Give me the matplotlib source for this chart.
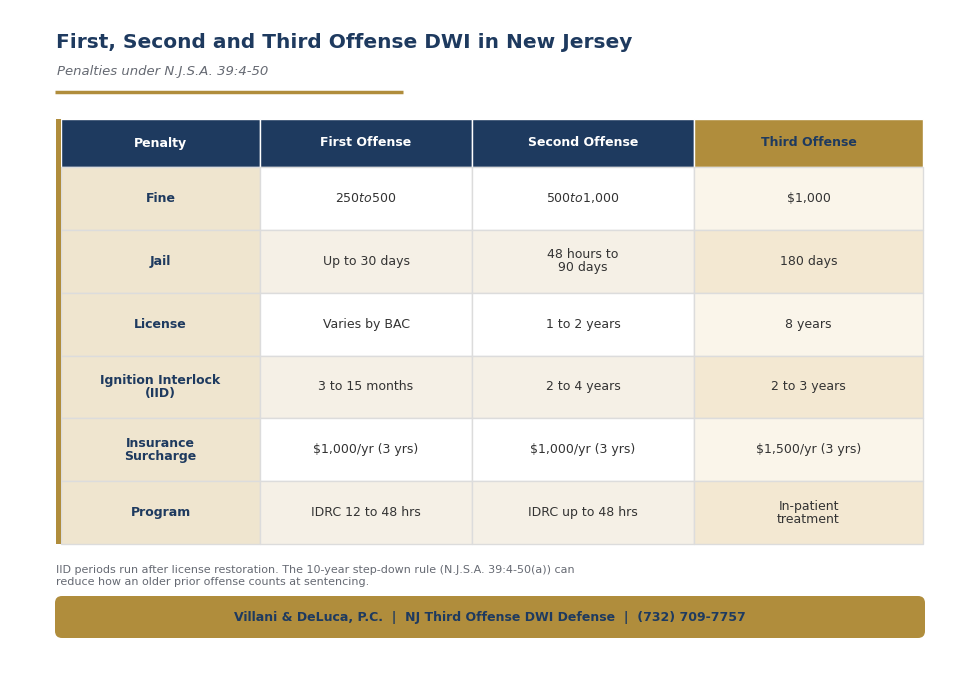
import matplotlib.pyplot as plt
from matplotlib.patches import Rectangle, FancyBboxPatch

navy = "#1e3a5f"
gold = "#b08d3c"

title = "First, Second and Third Offense DWI in New Jersey"
subtitle = "Penalties under N.J.S.A. 39:4-50"
columns = ["Penalty", "First Offense", "Second Offense", "Third Offense"]
penalties = ["Fine", "Jail", "License", "Ignition Interlock\n(IID)", "Insurance\nSurcharge", "Program"]
first = ["$250 to $500", "Up to 30 days", "Varies by BAC", "3 to 15 months", "$1,000/yr (3 yrs)", "IDRC 12 to 48 hrs"]
second = ["$500 to $1,000", "48 hours to\n90 days", "1 to 2 years", "2 to 4 years", "$1,000/yr (3 yrs)", "IDRC up to 48 hrs"]
third = ["$1,000", "180 days", "8 years", "2 to 3 years", "$1,500/yr (3 yrs)", "In-patient\ntreatment"]
note = ("IID periods run after license restoration. The 10-year step-down rule (N.J.S.A. 39:4-50(a)) can\n"
        "reduce how an older prior offense counts at sentencing.")
footer = "Villani & DeLuca, P.C.  |  NJ Third Offense DWI Defense  |  (732) 709-7757"

fig = plt.figure(figsize=(9.8, 6.74), dpi=100)
ax = fig.add_axes([0, 0, 1, 1])
ax.set_xlim(0, 980)
ax.set_ylim(674, 0)
ax.axis("off")

ax.text(56, 43, title, fontsize=14.5, fontweight="bold", color=navy, va="center")
ax.text(57, 72, subtitle, fontsize=9.5, style="italic", color="#666a73", va="center")
ax.plot([55, 403], [91.5, 91.5], color=gold, lw=2.5, solid_capstyle="butt")

xs = [61, 260, 472, 694, 923]
y_head, y_body = 119, 167
row_h = (544 - 167) / 6
grid = "#dcdcdc"

# header
for i, c in enumerate(columns):
    bg = gold if i == 3 else navy
    fg = navy if i == 3 else "white"
    ax.add_patch(Rectangle((xs[i], y_head), xs[i + 1] - xs[i], y_body - y_head, fc=bg, ec="white", lw=1))
    ax.text((xs[i] + xs[i + 1]) / 2, (y_head + y_body) / 2, c, ha="center", va="center",
            fontsize=9, fontweight="bold", color=fg)

# body
for r in range(6):
    y0 = y_body + r * row_h
    alt = r % 2 == 1
    fills = ["#efe5cf", "#f5f0e6" if alt else "white", "#f5f0e6" if alt else "white",
             "#f3e8d2" if alt else "#faf5ea"]
    vals = [penalties[r], first[r], second[r], third[r]]
    for i in range(4):
        ax.add_patch(Rectangle((xs[i], y0), xs[i + 1] - xs[i], row_h, fc=fills[i], ec=grid, lw=1))
        ax.text((xs[i] + xs[i + 1]) / 2, y0 + row_h / 2, vals[i], ha="center", va="center",
                fontsize=9, linespacing=1.0,
                fontweight="bold" if i == 0 else "normal",
                color=navy if i == 0 else "#333333")

ax.add_patch(Rectangle((56, y_head), 5, 544 - y_head, fc=gold, ec="none"))

ax.text(56, 576, note, fontsize=8, color="#666a73", va="center", linespacing=1.3)

ax.add_patch(FancyBboxPatch((55, 596), 870, 42, boxstyle="round,pad=0,rounding_size=7",
                            fc=gold, ec="none"))
ax.text(490, 617, footer, ha="center", va="center", fontsize=9, fontweight="bold", color=navy)

fig.savefig("out.png", dpi=100)
